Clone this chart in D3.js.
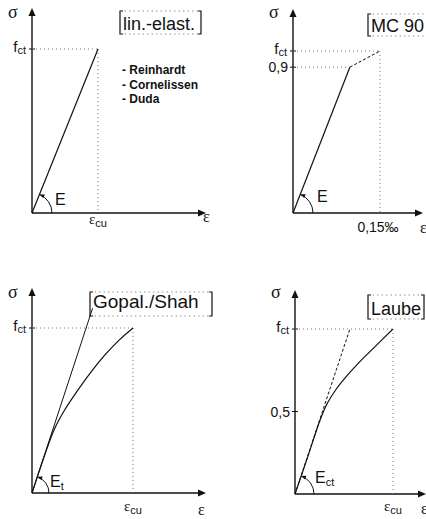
<!DOCTYPE html>
<html>
<head>
<meta charset="utf-8">
<script src="https://cdn.jsdelivr.net/npm/d3@7"></script>
<style>
  html, body { margin: 0; padding: 0; background: #fff; }
  svg { display: block; }
  .sans { font-family: "Liberation Sans", Arial, sans-serif; fill: #111; }
  .greek { font-family: "Liberation Serif", "DejaVu Serif", serif; fill: #111; }
</style>
</head>
<body>
<svg id="chart" width="426" height="519"></svg>
<script>
// Stress–strain models for concrete in tension (σ normalised to f_ct, ε to ε_cu)

// Linear-elastic model
const linEps = [0, 1];
const linSig = [0, 1];
const linAuthors = ["- Reinhardt", "- Cornelissen", "- Duda"];

// MC 90: linear up to 0.9 f_ct, then to f_ct at ε = 0,15 ‰
const mcEps = [0, 0.098, 0.15];
const mcSig = [0, 0.9, 1];
const mcTickLabels = ["0,9", "0,15‰"];

// Gopalaratnam / Shah: initial tangent E_t and curved branch
const gopTanEps = [0, 0.60];
const gopTanSig = [0, 1.12];
const gopEps = [0, 0.12, 0.22, 0.32, 0.45, 0.58, 0.72, 0.86, 1];
const gopSig = [0, 0.22, 0.385, 0.50, 0.62, 0.73, 0.835, 0.925, 1];

// Laube: secant E_ct and curved branch
const laubeSecEps = [0, 0.56];
const laubeSecSig = [0, 1];
const laubeEps = [0, 0.13, 0.26, 0.33, 0.42, 0.52, 0.65, 0.82, 1];
const laubeSig = [0, 0.225, 0.455, 0.55, 0.635, 0.71, 0.795, 0.895, 1];
const laubeTickLabels = ["0,5"];

const svg = d3.select("#chart");
const INK = "#111";
const DOT = "#777";

function zip(xs, ys) { return xs.map((x, i) => [x, ys[i]]); }

function panel(cfg) {
  const g = svg.append("g");
  const x = d3.scaleLinear().domain(cfg.xDomain).range([cfg.ox, cfg.xRef]);
  const y = d3.scaleLinear().domain([0, 1]).range([cfg.oy, cfg.yRef]);
  const line = d3.line().x(d => x(d[0])).y(d => y(d[1]));
  const curve = d3.line().x(d => x(d[0])).y(d => y(d[1])).curve(d3.curveCatmullRom.alpha(0.5));

  // axes with arrowheads
  g.append("line").attr("x1", cfg.ox).attr("y1", cfg.oy).attr("x2", cfg.ox).attr("y2", cfg.yTop + 6)
    .attr("stroke", INK).attr("stroke-width", 1.4);
  g.append("line").attr("x1", cfg.ox).attr("y1", cfg.oy).attr("x2", cfg.xEnd - 6).attr("y2", cfg.oy)
    .attr("stroke", INK).attr("stroke-width", 1.4);
  g.append("path").attr("d", `M${cfg.ox},${cfg.yTop} L${cfg.ox - 3.5},${cfg.yTop + 8} L${cfg.ox + 3.5},${cfg.yTop + 8}Z`).attr("fill", INK);
  g.append("path").attr("d", `M${cfg.xEnd},${cfg.oy} L${cfg.xEnd - 8},${cfg.oy - 3.5} L${cfg.xEnd - 8},${cfg.oy + 3.5}Z`).attr("fill", INK);

  // axis names
  g.append("text").attr("class", "greek").attr("x", cfg.sigmaPos[0]).attr("y", cfg.sigmaPos[1])
    .attr("font-size", 18).text("σ");
  g.append("text").attr("class", "greek").attr("x", cfg.epsPos[0]).attr("y", cfg.epsPos[1])
    .attr("font-size", 16).text("ε");

  // f_ct label and tick
  const fl = g.append("text").attr("class", "sans").attr("x", cfg.ox - 6).attr("y", y(1) + 3)
    .attr("text-anchor", "end").attr("font-size", 15);
  fl.append("tspan").text("f");
  fl.append("tspan").attr("font-size", 11).attr("dy", 2).text("ct");
  g.append("line").attr("x1", cfg.ox - 3).attr("x2", cfg.ox + 3).attr("y1", y(1)).attr("y2", y(1))
    .attr("stroke", INK).attr("stroke-width", 1);

  // reference box title: solid brackets, dotted top and bottom
  const b = cfg.box;
  g.append("path").attr("d", `M${b[0] + 3},${b[1]} H${b[0]} V${b[3]} H${b[0] + 3}`)
    .attr("fill", "none").attr("stroke", INK).attr("stroke-width", 1.2);
  g.append("path").attr("d", `M${b[2] - 3},${b[1]} H${b[2]} V${b[3]} H${b[2] - 3}`)
    .attr("fill", "none").attr("stroke", INK).attr("stroke-width", 1.2);
  [b[1], b[3]].forEach(yy => g.append("line").attr("x1", b[0]).attr("x2", b[2]).attr("y1", yy).attr("y2", yy)
    .attr("stroke", DOT).attr("stroke-width", 0.8).attr("stroke-dasharray", "1.5,3"));
  g.append("text").attr("class", "sans").attr("x", b[0] + 3).attr("y", cfg.titleY)
    .attr("font-size", cfg.titleSize).text(cfg.title);

  // modulus angle arc
  const a = cfg.arcAngle;
  const r = cfg.arcR;
  const ex = cfg.ox + r * Math.cos(a), ey = cfg.oy - r * Math.sin(a);
  g.append("path").attr("d", `M${cfg.ox + r},${cfg.oy} A${r},${r} 0 0 0 ${ex},${ey}`)
    .attr("fill", "none").attr("stroke", INK).attr("stroke-width", 1);
  const tx = -Math.sin(a), ty = -Math.cos(a); // tangent direction at arc end
  const nx = Math.cos(a), ny = -Math.sin(a);
  g.append("path").attr("d",
      `M${ex},${ey} L${ex - 5 * tx + 2 * nx},${ey - 5 * ty + 2 * ny} L${ex - 5 * tx - 2 * nx},${ey - 5 * ty - 2 * ny}Z`)
    .attr("fill", INK);
  const el = g.append("text").attr("class", "sans").attr("x", cfg.ePos[0]).attr("y", cfg.ePos[1]).attr("font-size", 16);
  el.append("tspan").text("E");
  if (cfg.eSub) el.append("tspan").attr("font-size", 11).attr("dy", 3).text(cfg.eSub);

  return { g, x, y, line, curve, ox: cfg.ox, oy: cfg.oy };
}

function dotted(g, x1, y1, x2, y2) {
  g.append("line").attr("x1", x1).attr("y1", y1).attr("x2", x2).attr("y2", y2)
    .attr("stroke", DOT).attr("stroke-width", 1).attr("stroke-dasharray", "1,3");
}

function yTick(p, v, label) {
  p.g.append("line").attr("x1", p.ox - 3).attr("x2", p.ox + 3).attr("y1", p.y(v)).attr("y2", p.y(v))
    .attr("stroke", INK).attr("stroke-width", 1);
  p.g.append("text").attr("class", "sans").attr("x", p.ox - 5).attr("y", p.y(v) + 5)
    .attr("text-anchor", "end").attr("font-size", 14).text(label);
}

function epsCuLabel(g, xx, yy) {
  const t = g.append("text").attr("x", xx).attr("y", yy).attr("text-anchor", "middle");
  t.append("tspan").attr("class", "greek").attr("font-size", 15).text("ε");
  t.append("tspan").attr("class", "sans").attr("font-size", 11).attr("dy", 3).text("cu");
}

// ---- Panel 1: linear elastic
{
  const p = panel({ ox: 32, oy: 213, xEnd: 206, yTop: 8, xDomain: [0, 1], xRef: 98, yRef: 49,
    sigmaPos: [8, 18], epsPos: [203, 222], box: [120, 11, 201, 34], title: "lin.-elast.", titleY: 30, titleSize: 18,
    arcR: 20, arcAngle: Math.atan2(164, 66), ePos: [55, 205] });
  dotted(p.g, p.x(0), p.y(1), p.x(1), p.y(1));
  dotted(p.g, p.x(1), p.y(1), p.x(1), p.y(0));
  p.g.append("path").datum(zip(linEps, linSig)).attr("d", p.line).attr("fill", "none")
    .attr("stroke", INK).attr("stroke-width", 1.2);
  epsCuLabel(p.g, p.x(1), 224);
  linAuthors.forEach((s, i) => p.g.append("text").attr("class", "sans").attr("x", 122).attr("y", 74 + i * 14.5)
    .attr("font-size", 12).attr("font-weight", "bold").text(s));
}

// ---- Panel 2: MC 90
{
  const p = panel({ ox: 293, oy: 213, xEnd: 423, yTop: 9, xDomain: [0, 0.15], xRef: 380, yRef: 51,
    sigmaPos: [269, 18], epsPos: [420, 233], box: [368, 14, 432, 36], title: "MC 90", titleY: 32, titleSize: 18,
    arcR: 20, arcAngle: Math.atan2(146, 57), ePos: [317, 202] });
  const pts = zip(mcEps, mcSig);
  dotted(p.g, p.x(0), p.y(1), p.x(0.15), p.y(1));
  dotted(p.g, p.x(0), p.y(0.9), p.x(mcEps[1]), p.y(0.9));
  dotted(p.g, p.x(0.15), p.y(1), p.x(0.15), p.y(0));
  yTick(p, mcSig[1], mcTickLabels[0]);
  p.g.append("path").datum(pts.slice(0, 2)).attr("d", p.line).attr("fill", "none")
    .attr("stroke", INK).attr("stroke-width", 1.2);
  p.g.append("path").datum(pts.slice(1)).attr("d", p.line).attr("fill", "none")
    .attr("stroke", INK).attr("stroke-width", 1).attr("stroke-dasharray", "3,2");
  p.g.append("text").attr("class", "sans").attr("x", p.x(0.15) - 2).attr("y", 232)
    .attr("text-anchor", "middle").attr("font-size", 14).text(mcTickLabels[1]);
}

// ---- Panel 3: Gopalaratnam / Shah
{
  const p = panel({ ox: 32, oy: 493, xEnd: 206, yTop: 288, xDomain: [0, 1], xRef: 133, yRef: 328,
    sigmaPos: [8, 298], epsPos: [198, 515], box: [90, 292, 212, 316], title: "Gopal./Shah", titleY: 308, titleSize: 19,
    arcR: 17, arcAngle: Math.atan2(185, 61), ePos: [50, 487], eSub: "t" });
  dotted(p.g, p.x(0), p.y(1), p.x(1), p.y(1));
  dotted(p.g, p.x(1), p.y(1), p.x(1), p.y(0));
  p.g.append("path").datum(zip(gopTanEps, gopTanSig)).attr("d", p.line).attr("fill", "none")
    .attr("stroke", INK).attr("stroke-width", 1);
  p.g.append("path").datum(zip(gopEps, gopSig)).attr("d", p.curve).attr("fill", "none")
    .attr("stroke", INK).attr("stroke-width", 1.2);
  epsCuLabel(p.g, p.x(1), 511);
}

// ---- Panel 4: Laube
{
  const p = panel({ ox: 295, oy: 494, xEnd: 426, yTop: 290, xDomain: [0, 1], xRef: 393, yRef: 329,
    sigmaPos: [271, 298], epsPos: [421, 514], box: [368, 295, 424, 319], title: "Laube", titleY: 315, titleSize: 18,
    arcR: 19, arcAngle: Math.atan2(165, 55), ePos: [315, 483], eSub: "ct" });
  dotted(p.g, p.x(0), p.y(1), p.x(1), p.y(1));
  dotted(p.g, p.x(1), p.y(1), p.x(1), p.y(0));
  yTick(p, 0.5, laubeTickLabels[0]);
  p.g.append("path").datum(zip(laubeSecEps, laubeSecSig)).attr("d", p.line).attr("fill", "none")
    .attr("stroke", INK).attr("stroke-width", 1).attr("stroke-dasharray", "3,2");
  p.g.append("path").datum(zip(laubeEps, laubeSig)).attr("d", p.curve).attr("fill", "none")
    .attr("stroke", INK).attr("stroke-width", 1.2);
  epsCuLabel(p.g, p.x(1), 511);
}
</script>
</body>
</html>
